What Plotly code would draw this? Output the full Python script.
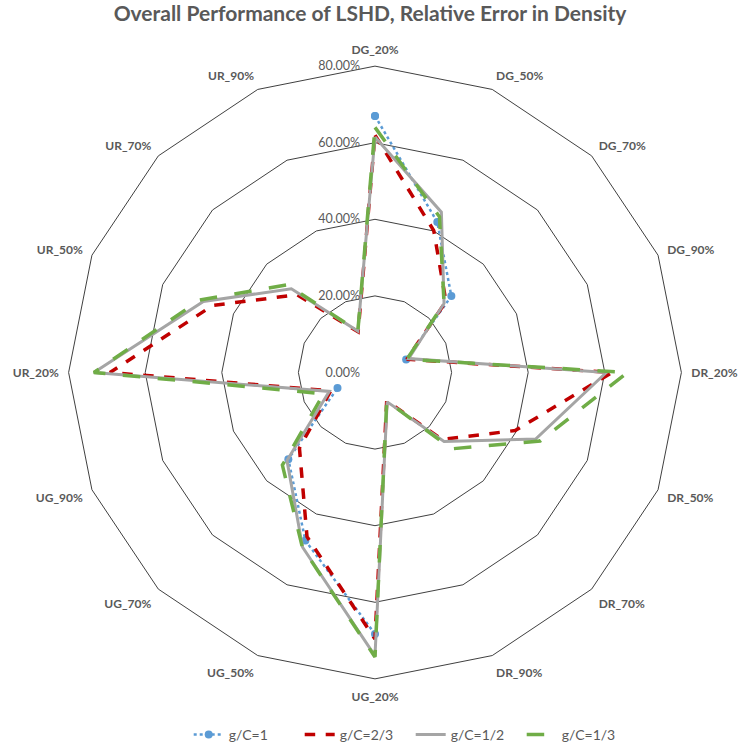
import plotly.graph_objects as go

categories = ["DG_20%", "DG_50%", "DG_70%", "DG_90%",
              "DR_20%", "DR_50%", "DR_70%", "DR_90%",
              "UG_20%", "UG_50%", "UG_70%", "UG_90%",
              "UR_20%", "UR_50%", "UR_70%", "UR_90%"]

# relative error in density (fraction); g/C=1 has no red phase, so DR/UR are empty
gc_1 = [0.670, 0.425, 0.282, 0.088, None, None, None, None,
        0.683, 0.475, 0.320, 0.106, None, None, None, None]
gc_2_3 = [0.620, 0.401, 0.262, 0.090, 0.619, 0.396, 0.247, 0.080,
          0.696, 0.464, 0.279, 0.125, 0.692, 0.458, 0.287, 0.115]
gc_1_2 = [0.615, 0.453, 0.255, 0.095, 0.604, 0.454, 0.255, 0.083,
          0.740, 0.494, 0.325, 0.129, 0.734, 0.485, 0.309, 0.117]
gc_1_3 = [0.640, 0.440, 0.255, 0.090, 0.659, 0.467, 0.282, 0.080,
          0.743, 0.495, 0.342, 0.145, 0.734, 0.495, 0.324, 0.117]

series = [
    ("g/C=1", gc_1, dict(color="#5B9BD5", width=2.5, dash="dot"), True),
    ("g/C=2/3", gc_2_3, dict(color="#C00000", width=3.5, dash="dash"), False),
    ("g/C=1/2", gc_1_2, dict(color="#A5A5A5", width=3), False),
    ("g/C=1/3", gc_1_3, dict(color="#70AD47", width=3.5, dash="longdash"), False),
]

fig = go.Figure()
for name, vals, line, markers in series:
    fig.add_trace(go.Scatterpolar(
        r=vals + [vals[0]],
        theta=categories + [categories[0]],
        name=name,
        mode="lines+markers" if markers else "lines",
        line=line,
        marker=dict(size=8, color="#5B9BD5") if markers else None,
        connectgaps=False,
    ))

fig.update_layout(
    width=740, height=751,
    paper_bgcolor="white",
    margin=dict(l=0, r=0, t=0, b=0),
    title=dict(text="Overall Performance of LSHD, Relative Error in Density",
               x=0.5, xanchor="center", y=0.982, yanchor="middle",
               font=dict(family="Lato", size=21, color="#595959", weight="bold")),
    polar=dict(
        domain=dict(x=[0.0905, 0.923], y=[0.0912, 0.9115]),
        gridshape="linear",
        bgcolor="white",
        angularaxis=dict(direction="clockwise", rotation=90,
                         showgrid=False, showline=True, linecolor="#404040", linewidth=1,
                         ticks="outside", ticklen=7, tickcolor="rgba(0,0,0,0)",
                         tickfont=dict(family="Lato", size=12, color="#595959", weight="bold")),
        radialaxis=dict(range=[0, 0.8], dtick=0.2, tickformat=".2%",
                        angle=90, tickangle=90, side="counterclockwise",
                        showline=False, ticks="outside", ticklen=10,
                        tickcolor="rgba(0,0,0,0)",
                        gridcolor="#404040", gridwidth=1,
                        tickfont=dict(family="Lato", size=12.5, color="#595959")),
    ),
    legend=dict(orientation="h", x=0.555, xanchor="center", y=0.016, yanchor="middle",
                entrywidth=66, entrywidthmode="pixels",
                font=dict(family="Lato", size=14, color="#595959")),
)

fig.write_html("out.html")
